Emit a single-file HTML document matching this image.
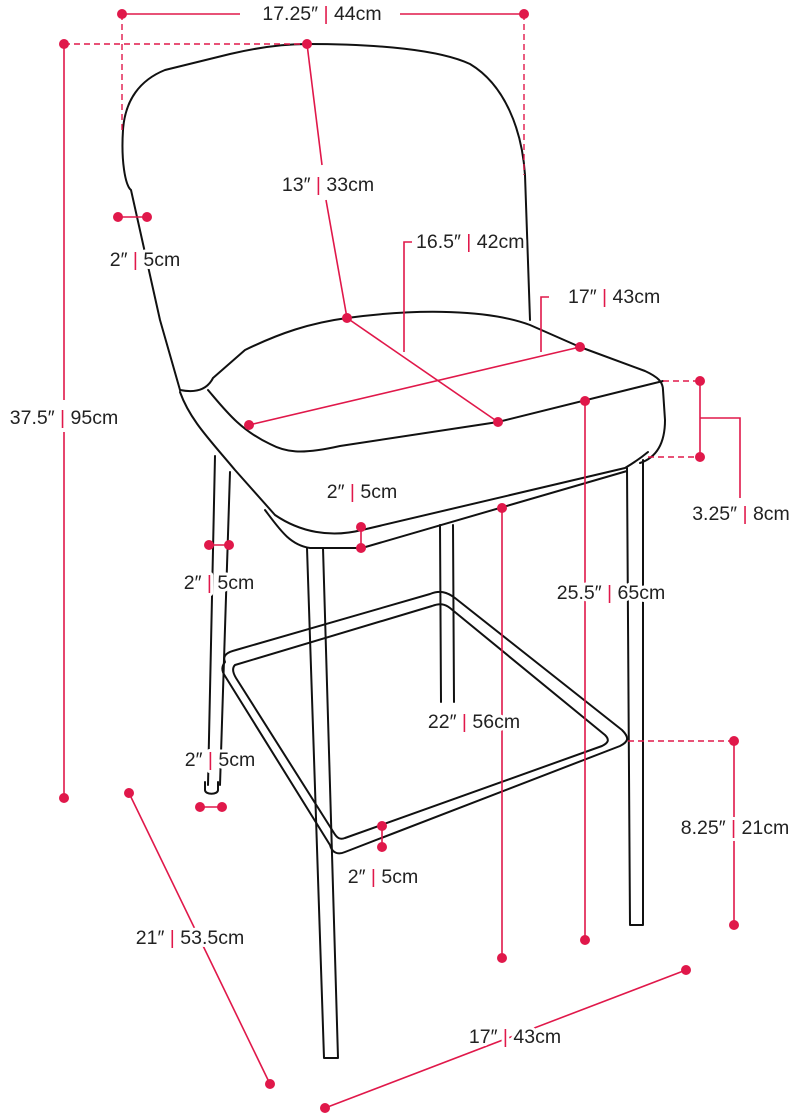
<!DOCTYPE html>
<html><head><meta charset="utf-8"><style>
html,body{margin:0;padding:0;background:#fff;}
svg{display:block}
text{font-family:"Liberation Sans",sans-serif;font-size:19.5px;fill:#222;stroke:#fff;stroke-width:6px;paint-order:stroke;stroke-linejoin:round}
.s{fill:#e0184a}
.k{fill:none;stroke:#111;stroke-width:2;stroke-linejoin:round;stroke-linecap:round}
.p{fill:none;stroke:#e0184a;stroke-width:1.6}
.d{fill:none;stroke:#e0184a;stroke-width:1.4;stroke-dasharray:6 4}
circle{fill:#e0184a}
</style></head><body>
<svg width="800" height="1116" viewBox="0 0 800 1116">
<g class="k">
<path d="M123,130 C125,100 140,80 165,70 L230,54 C260,47 285,44 307,44 C380,44 440,50 470,64 C505,85 522,130 525,175 L530,320"/>
<path d="M123,130 C121,160 125,185 131,190 L160,320 L180,390"/>
<path d="M180,390 C195,393 207,390 213,378 L245,350 C280,333 310,323 347,318 C420,308 490,310 530,325 L580,347 L645,371 C658,377 663,382 663,390 L665,420 C665,445 655,458 640,463"/>
<path d="M208,390 C225,410 240,430 270,444 C285,452 300,455 340,446 L498,422 L663,381"/>
<path d="M180,392 C190,420 210,440 235,470 L275,515 C300,532 330,538 362,530 L625,468 C635,462 642,457 648,452"/>
<path d="M265,510 C280,530 290,545 310,548 L362,548 L627,471"/>
<path d="M215,456 L208,785"/><path d="M230,472 L220,785"/>
<path d="M307,548 L324,1058 L338,1058 L323,548"/>
<path d="M440,525 L441,702"/><path d="M453,525 L454,702"/>
<path d="M627,468 L630,925 L643,925 L643,460"/>
<path d="M225,662 C222,655 228,652 236,650 L430,594 C440,590 447,592 455,598 L622,730 C630,738 628,742 620,746 L345,852 C338,855 332,853 330,845 L225,676 C221,670 222,666 225,662 Z"/>
<path d="M235,665 L432,606 C440,603 445,604 450,608 L605,735 C610,740 608,743 602,746 L345,838 C340,840 337,838 334,833 L236,678 C233,673 232,668 235,665 Z"/>
<path d="M205,782 L205,790 C205,795 218,795 218,790 L218,782"/>
</g>
<g>
<line class="p" x1="122" y1="14" x2="240" y2="14"/><line class="p" x1="400" y1="14" x2="524" y2="14"/>
<line class="d" x1="122" y1="14" x2="122" y2="132"/><line class="d" x1="524" y1="14" x2="524" y2="175"/>
<circle cx="122" cy="14" r="5"/><circle cx="524" cy="14" r="5"/>
<text x="322" y="20" text-anchor="middle">17.25″ <tspan class="s">|</tspan> 44cm</text>

<line class="d" x1="64" y1="44" x2="307" y2="44"/>
<line class="p" x1="64" y1="44" x2="64" y2="400"/><line class="p" x1="64" y1="432" x2="64" y2="798"/>
<circle cx="64" cy="44" r="5"/><circle cx="64" cy="798" r="5"/>
<text x="64" y="424" text-anchor="middle">37.5″ <tspan class="s">|</tspan> 95cm</text>

<line class="p" x1="307" y1="44" x2="322" y2="165"/><line class="p" x1="326" y1="200" x2="347" y2="318"/>
<circle cx="307" cy="44" r="5"/>
<text x="328" y="191" text-anchor="middle">13″ <tspan class="s">|</tspan> 33cm</text>

<line class="p" x1="118" y1="217" x2="147" y2="217"/><circle cx="118" cy="217" r="5"/><circle cx="147" cy="217" r="5"/>
<text x="145" y="266" text-anchor="middle">2″ <tspan class="s">|</tspan> 5cm</text>

<line class="p" x1="347" y1="318" x2="498" y2="422"/>
<polyline class="p" points="404,352 404,242 412,242"/>
<circle cx="347" cy="318" r="5"/><circle cx="498" cy="422" r="5"/>
<text x="416" y="248">16.5″ <tspan class="s">|</tspan> 42cm</text>

<line class="p" x1="249" y1="425" x2="580" y2="347"/>
<polyline class="p" points="541,352 541,297 549,297"/>
<circle cx="249" cy="425" r="5"/><circle cx="580" cy="347" r="5"/>
<text x="568" y="303">17″ <tspan class="s">|</tspan> 43cm</text>

<line class="d" x1="663" y1="381" x2="700" y2="381"/><line class="d" x1="648" y1="457" x2="700" y2="457"/>
<line class="p" x1="700" y1="381" x2="700" y2="457"/>
<polyline class="p" points="700,418 740,418 740,498"/>
<circle cx="700" cy="381" r="5"/><circle cx="700" cy="457" r="5"/>
<text x="741" y="520" text-anchor="middle">3.25″ <tspan class="s">|</tspan> 8cm</text>

<line class="p" x1="585" y1="401" x2="585" y2="940"/>
<circle cx="585" cy="401" r="5"/><circle cx="585" cy="940" r="5"/>
<text x="611" y="599" text-anchor="middle">25.5″ <tspan class="s">|</tspan> 65cm</text>

<text x="362" y="498" text-anchor="middle">2″ <tspan class="s">|</tspan> 5cm</text>
<line class="p" x1="361" y1="527" x2="361" y2="548"/><circle cx="361" cy="527" r="5"/><circle cx="361" cy="548" r="5"/>

<line class="p" x1="209" y1="545" x2="229" y2="545"/><circle cx="209" cy="545" r="5"/><circle cx="229" cy="545" r="5"/>
<text x="219" y="589" text-anchor="middle">2″ <tspan class="s">|</tspan> 5cm</text>

<line class="p" x1="502" y1="508" x2="502" y2="958"/>
<circle cx="502" cy="508" r="5"/><circle cx="502" cy="958" r="5"/>
<text x="474" y="728" text-anchor="middle">22″ <tspan class="s">|</tspan> 56cm</text>

<text x="220" y="766" text-anchor="middle">2″ <tspan class="s">|</tspan> 5cm</text>
<line class="p" x1="200" y1="807" x2="222" y2="807"/><circle cx="200" cy="807" r="5"/><circle cx="222" cy="807" r="5"/>

<line class="d" x1="628" y1="741" x2="734" y2="741"/>
<line class="p" x1="734" y1="741" x2="734" y2="925"/>
<circle cx="734" cy="741" r="5"/><circle cx="734" cy="925" r="5"/>
<text x="735" y="834" text-anchor="middle">8.25″ <tspan class="s">|</tspan> 21cm</text>

<line class="p" x1="382" y1="826" x2="382" y2="847"/><circle cx="382" cy="826" r="5"/><circle cx="382" cy="847" r="5"/>
<text x="383" y="883" text-anchor="middle">2″ <tspan class="s">|</tspan> 5cm</text>

<line class="p" x1="129" y1="793" x2="270" y2="1084"/>
<circle cx="129" cy="793" r="5"/><circle cx="270" cy="1084" r="5"/>
<text x="190" y="944" text-anchor="middle">21″ <tspan class="s">|</tspan> 53.5cm</text>

<line class="p" x1="325" y1="1108" x2="686" y2="970"/>
<circle cx="325" cy="1108" r="5"/><circle cx="686" cy="970" r="5"/>
<text x="515" y="1043" text-anchor="middle">17″ <tspan class="s">|</tspan> 43cm</text>
</g>
</svg>
</body></html>
